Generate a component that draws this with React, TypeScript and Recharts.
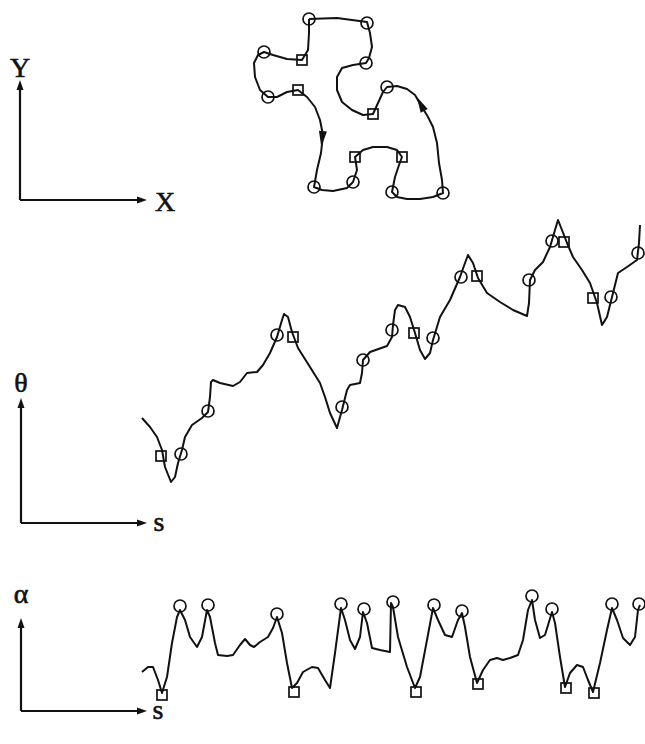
import { ComposedChart, Line, Scatter, XAxis, YAxis } from "recharts";

type Pt = { x: number; y: number };

// values, in page pixels (y grows downward, axes are reversed)

// closed X-Y contour, clockwise on screen from the top-left corner
const contour: Pt[] = [
  { x: 309, y: 19 }, { x: 337, y: 18 }, { x: 367, y: 22 }, { x: 370, y: 33 }, { x: 372, y: 47 },
  { x: 369, y: 58 }, { x: 366, y: 63 }, { x: 353, y: 65 }, { x: 342, y: 68 }, { x: 337, y: 77 },
  { x: 337, y: 90 }, { x: 342, y: 102 }, { x: 352, y: 110 }, { x: 363, y: 115 }, { x: 373, y: 114 },
  { x: 378, y: 103 }, { x: 383, y: 92 }, { x: 387, y: 87 }, { x: 397, y: 86 }, { x: 407, y: 89 },
  { x: 415, y: 95 }, { x: 422, y: 107 }, { x: 428, y: 117 }, { x: 433, y: 127 }, { x: 437, y: 143 },
  { x: 439, y: 163 }, { x: 442, y: 180 }, { x: 443, y: 193 }, { x: 433, y: 197 }, { x: 420, y: 199 },
  { x: 407, y: 199 }, { x: 397, y: 197 }, { x: 392, y: 192 }, { x: 395, y: 177 }, { x: 399, y: 165 },
  { x: 402, y: 157 }, { x: 397, y: 150 }, { x: 387, y: 147 }, { x: 373, y: 147 }, { x: 363, y: 150 },
  { x: 355, y: 157 }, { x: 357, y: 170 }, { x: 353, y: 182 }, { x: 347, y: 188 }, { x: 333, y: 191 },
  { x: 322, y: 190 }, { x: 314, y: 187 }, { x: 317, y: 170 }, { x: 321, y: 153 }, { x: 323, y: 135 },
  { x: 320, y: 120 }, { x: 315, y: 107 }, { x: 307, y: 97 }, { x: 298, y: 90 }, { x: 287, y: 92 },
  { x: 277, y: 97 }, { x: 268, y: 97 }, { x: 260, y: 90 }, { x: 255, y: 77 }, { x: 254, y: 63 },
  { x: 258, y: 55 }, { x: 264, y: 52 }, { x: 273, y: 55 }, { x: 287, y: 59 }, { x: 302, y: 60 },
  { x: 308, y: 50 }, { x: 309, y: 33 }, { x: 309, y: 19 },
];
const contourCircles: Pt[] = [
  { x: 309, y: 19 }, { x: 367, y: 23 }, { x: 366, y: 63 }, { x: 264, y: 52 }, { x: 268, y: 97 },
  { x: 387, y: 87 }, { x: 314, y: 187 }, { x: 353, y: 182 }, { x: 392, y: 192 }, { x: 443, y: 193 },
];
const contourSquares: Pt[] = [
  { x: 302, y: 60 }, { x: 298, y: 90 }, { x: 373, y: 114 }, { x: 355, y: 157 }, { x: 402, y: 157 },
];
const arrowsDown: Pt[] = [{ x: 322, y: 140 }];
const arrowsUp: Pt[] = [{ x: 420, y: 103 }];

// theta(s)
const thetaCurve: Pt[] = [
  { x: 142, y: 418 }, { x: 150, y: 427 }, { x: 157, y: 437 }, { x: 162, y: 450 }, { x: 165, y: 467 },
  { x: 171, y: 482 }, { x: 175, y: 477 }, { x: 178, y: 463 }, { x: 182, y: 450 }, { x: 185, y: 437 },
  { x: 192, y: 425 }, { x: 202, y: 418 }, { x: 208, y: 412 }, { x: 210, y: 397 }, { x: 211, y: 382 },
  { x: 213, y: 380 }, { x: 220, y: 383 }, { x: 233, y: 386 }, { x: 240, y: 382 }, { x: 247, y: 373 },
  { x: 257, y: 372 }, { x: 263, y: 365 }, { x: 270, y: 353 }, { x: 277, y: 337 }, { x: 282, y: 320 },
  { x: 284, y: 314 }, { x: 288, y: 317 }, { x: 292, y: 332 }, { x: 298, y: 348 }, { x: 310, y: 367 },
  { x: 320, y: 383 }, { x: 325, y: 397 }, { x: 330, y: 413 }, { x: 337, y: 428 }, { x: 342, y: 410 },
  { x: 347, y: 390 }, { x: 350, y: 385 }, { x: 360, y: 383 }, { x: 362, y: 373 }, { x: 363, y: 360 },
  { x: 370, y: 352 }, { x: 387, y: 346 }, { x: 392, y: 337 }, { x: 393, y: 325 }, { x: 395, y: 310 },
  { x: 398, y: 305 }, { x: 405, y: 307 }, { x: 410, y: 317 }, { x: 415, y: 333 }, { x: 420, y: 350 },
  { x: 425, y: 359 }, { x: 430, y: 353 }, { x: 433, y: 340 }, { x: 440, y: 317 }, { x: 450, y: 300 },
  { x: 460, y: 277 }, { x: 465, y: 263 }, { x: 468, y: 255 }, { x: 473, y: 263 }, { x: 478, y: 278 },
  { x: 487, y: 293 }, { x: 500, y: 302 }, { x: 513, y: 310 }, { x: 527, y: 316 }, { x: 529, y: 303 },
  { x: 530, y: 280 }, { x: 535, y: 270 }, { x: 543, y: 262 }, { x: 550, y: 247 }, { x: 555, y: 230 },
  { x: 558, y: 220 }, { x: 562, y: 230 }, { x: 567, y: 243 }, { x: 573, y: 257 }, { x: 582, y: 270 },
  { x: 590, y: 283 }, { x: 597, y: 303 }, { x: 602, y: 325 }, { x: 607, y: 317 }, { x: 612, y: 297 },
  { x: 618, y: 273 }, { x: 627, y: 267 }, { x: 637, y: 260 }, { x: 639, y: 243 }, { x: 640, y: 225 },
];
const thetaCircles: Pt[] = [
  { x: 181, y: 454 }, { x: 208, y: 411 }, { x: 277, y: 335 }, { x: 342, y: 407 }, { x: 363, y: 360 },
  { x: 392, y: 330 }, { x: 433, y: 338 }, { x: 461, y: 277 }, { x: 529, y: 280 }, { x: 552, y: 241 },
  { x: 611, y: 297 }, { x: 638, y: 253 },
];
const thetaSquares: Pt[] = [
  { x: 161, y: 456 }, { x: 293, y: 337 }, { x: 414, y: 333 }, { x: 477, y: 276 }, { x: 564, y: 242 },
  { x: 593, y: 298 },
];

// alpha(s)
const alphaCurve: Pt[] = [
  { x: 142, y: 672 }, { x: 148, y: 667 }, { x: 153, y: 667 }, { x: 158, y: 680 }, { x: 162, y: 693 },
  { x: 167, y: 677 }, { x: 172, y: 643 }, { x: 177, y: 617 }, { x: 180, y: 610 }, { x: 185, y: 620 },
  { x: 190, y: 637 }, { x: 197, y: 647 }, { x: 202, y: 637 }, { x: 207, y: 610 }, { x: 210, y: 617 },
  { x: 215, y: 643 }, { x: 218, y: 655 }, { x: 227, y: 656 }, { x: 233, y: 655 }, { x: 240, y: 645 },
  { x: 245, y: 639 }, { x: 250, y: 645 }, { x: 254, y: 647 }, { x: 260, y: 642 }, { x: 268, y: 637 },
  { x: 273, y: 628 }, { x: 277, y: 617 }, { x: 282, y: 633 }, { x: 287, y: 663 }, { x: 292, y: 688 },
  { x: 297, y: 683 }, { x: 303, y: 672 }, { x: 312, y: 667 }, { x: 318, y: 668 }, { x: 325, y: 680 },
  { x: 330, y: 688 }, { x: 335, y: 653 }, { x: 341, y: 608 }, { x: 345, y: 620 }, { x: 350, y: 640 },
  { x: 355, y: 649 }, { x: 360, y: 637 }, { x: 363, y: 612 }, { x: 367, y: 623 }, { x: 372, y: 648 },
  { x: 380, y: 650 }, { x: 390, y: 652 }, { x: 391, y: 603 }, { x: 393, y: 607 }, { x: 398, y: 637 },
  { x: 407, y: 667 }, { x: 415, y: 688 }, { x: 420, y: 677 }, { x: 427, y: 640 }, { x: 433, y: 608 },
  { x: 438, y: 620 }, { x: 445, y: 635 }, { x: 452, y: 637 }, { x: 458, y: 620 }, { x: 462, y: 613 },
  { x: 465, y: 627 }, { x: 470, y: 657 }, { x: 477, y: 683 }, { x: 483, y: 670 }, { x: 490, y: 660 },
  { x: 497, y: 658 }, { x: 503, y: 660 }, { x: 510, y: 658 }, { x: 518, y: 655 }, { x: 523, y: 640 },
  { x: 528, y: 610 }, { x: 532, y: 600 }, { x: 535, y: 620 }, { x: 540, y: 638 }, { x: 545, y: 635 },
  { x: 552, y: 612 }, { x: 555, y: 623 }, { x: 560, y: 657 }, { x: 565, y: 687 }, { x: 570, y: 673 },
  { x: 577, y: 665 }, { x: 583, y: 667 }, { x: 588, y: 680 }, { x: 593, y: 692 }, { x: 600, y: 663 },
  { x: 607, y: 630 }, { x: 612, y: 608 }, { x: 617, y: 620 }, { x: 623, y: 638 }, { x: 630, y: 645 },
  { x: 635, y: 637 }, { x: 638, y: 610 }, { x: 640, y: 605 },
];
const alphaCircles: Pt[] = [
  { x: 180, y: 606 }, { x: 208, y: 605 }, { x: 277, y: 614 }, { x: 341, y: 604 }, { x: 364, y: 609 },
  { x: 393, y: 602 }, { x: 434, y: 605 }, { x: 462, y: 611 }, { x: 532, y: 596 }, { x: 552, y: 609 },
  { x: 612, y: 604 }, { x: 639, y: 604 },
];
const alphaSquares: Pt[] = [
  { x: 162, y: 695 }, { x: 294, y: 692 }, { x: 416, y: 692 }, { x: 478, y: 684 }, { x: 566, y: 688 },
  { x: 594, y: 693 },
];

const ink = "#111";

const CircleMark = (p: any) => (
  <circle cx={p.cx} cy={p.cy} r={6} fill="none" stroke={ink} strokeWidth={1.7} />
);
const SquareMark = (p: any) => (
  <rect x={p.cx - 5} y={p.cy - 5} width={10} height={10} fill="none" stroke={ink} strokeWidth={1.7} />
);
const ArrowDown = (p: any) => (
  <polygon
    points={`${p.cx - 4},${p.cy - 9} ${p.cx + 4},${p.cy - 9} ${p.cx},${p.cy + 7}`}
    fill={ink}
    transform={`rotate(6 ${p.cx} ${p.cy})`}
  />
);
const ArrowUp = (p: any) => (
  <polygon
    points={`${p.cx - 4},${p.cy + 9} ${p.cx + 4},${p.cy + 9} ${p.cx},${p.cy - 7}`}
    fill={ink}
    transform={`rotate(-28 ${p.cx} ${p.cy})`}
  />
);

function Panel(props: {
  left: number; top: number; width: number; height: number;
  curve: Pt[]; circles: Pt[]; squares: Pt[]; extra?: React.ReactNode;
}) {
  const { left, top, width, height } = props;
  return (
    <div style={{ position: "absolute", left, top }}>
      <ComposedChart width={width} height={height} margin={{ top: 0, right: 0, bottom: 0, left: 0 }}>
        <XAxis type="number" dataKey="x" domain={[left, left + width]} allowDataOverflow hide />
        <YAxis type="number" dataKey="y" domain={[top, top + height]} allowDataOverflow reversed hide />
        <Line data={props.curve} dataKey="y" type="linear" stroke={ink} strokeWidth={2} strokeLinejoin="round" dot={false} isAnimationActive={false} />
        <Scatter data={props.circles} shape={CircleMark} isAnimationActive={false} />
        <Scatter data={props.squares} shape={SquareMark} isAnimationActive={false} />
        {props.extra}
      </ComposedChart>
    </div>
  );
}

function AxisGlyph({ x0, yTop, yBottom, xRight, yLabel, xLabel, yLabelY, xLabelX, xLabelY }: any) {
  const font = { fontSize: 28, fontFamily: "Liberation Serif, serif", stroke: ink, strokeWidth: 0.6 };
  return (
    <g stroke={ink} strokeWidth={2.2} fill={ink}>
      <line x1={x0} y1={yBottom} x2={x0} y2={yTop + 8} />
      <polygon points={`${x0 - 3.5},${yTop + 10} ${x0 + 3.5},${yTop + 10} ${x0},${yTop}`} strokeWidth={0} />
      <line x1={x0} y1={yBottom} x2={xRight - 8} y2={yBottom} />
      <polygon points={`${xRight - 10},${yBottom - 3.5} ${xRight - 10},${yBottom + 3.5} ${xRight},${yBottom}`} strokeWidth={0} />
      <text x={x0} y={yLabelY} textAnchor="middle" {...font}>{yLabel}</text>
      <text x={xLabelX} y={xLabelY} textAnchor="middle" {...font}>{xLabel}</text>
    </g>
  );
}

export default function App() {
  return (
    <div style={{ position: "absolute", left: 0, top: 0, width: 645, height: 744, background: "#fff", overflow: "hidden" }}>
      <svg width={645} height={744} style={{ position: "absolute", left: 0, top: 0 }}>
        <AxisGlyph x0={20} yTop={80} yBottom={200} xRight={147} yLabel="Y" xLabel="X" yLabelY={77} xLabelX={165} xLabelY={211} />
        <AxisGlyph x0={21} yTop={398} yBottom={523} xRight={147} yLabel="θ" xLabel="s" yLabelY={392} xLabelX={159} xLabelY={531} />
        <AxisGlyph x0={21} yTop={618} yBottom={711} xRight={147} yLabel="α" xLabel="s" yLabelY={603} xLabelX={158} xLabelY={719} />
      </svg>
      <Panel
        left={240} top={0} width={220} height={215}
        curve={contour} circles={contourCircles} squares={contourSquares}
        extra={[
          <Scatter key="down" data={arrowsDown} shape={ArrowDown} isAnimationActive={false} />,
          <Scatter key="up" data={arrowsUp} shape={ArrowUp} isAnimationActive={false} />,
        ]}
      />
      <Panel left={130} top={205} width={515} height={290} curve={thetaCurve} circles={thetaCircles} squares={thetaSquares} />
      <Panel left={130} top={580} width={515} height={125} curve={alphaCurve} circles={alphaCircles} squares={alphaSquares} />
    </div>
  );
}
